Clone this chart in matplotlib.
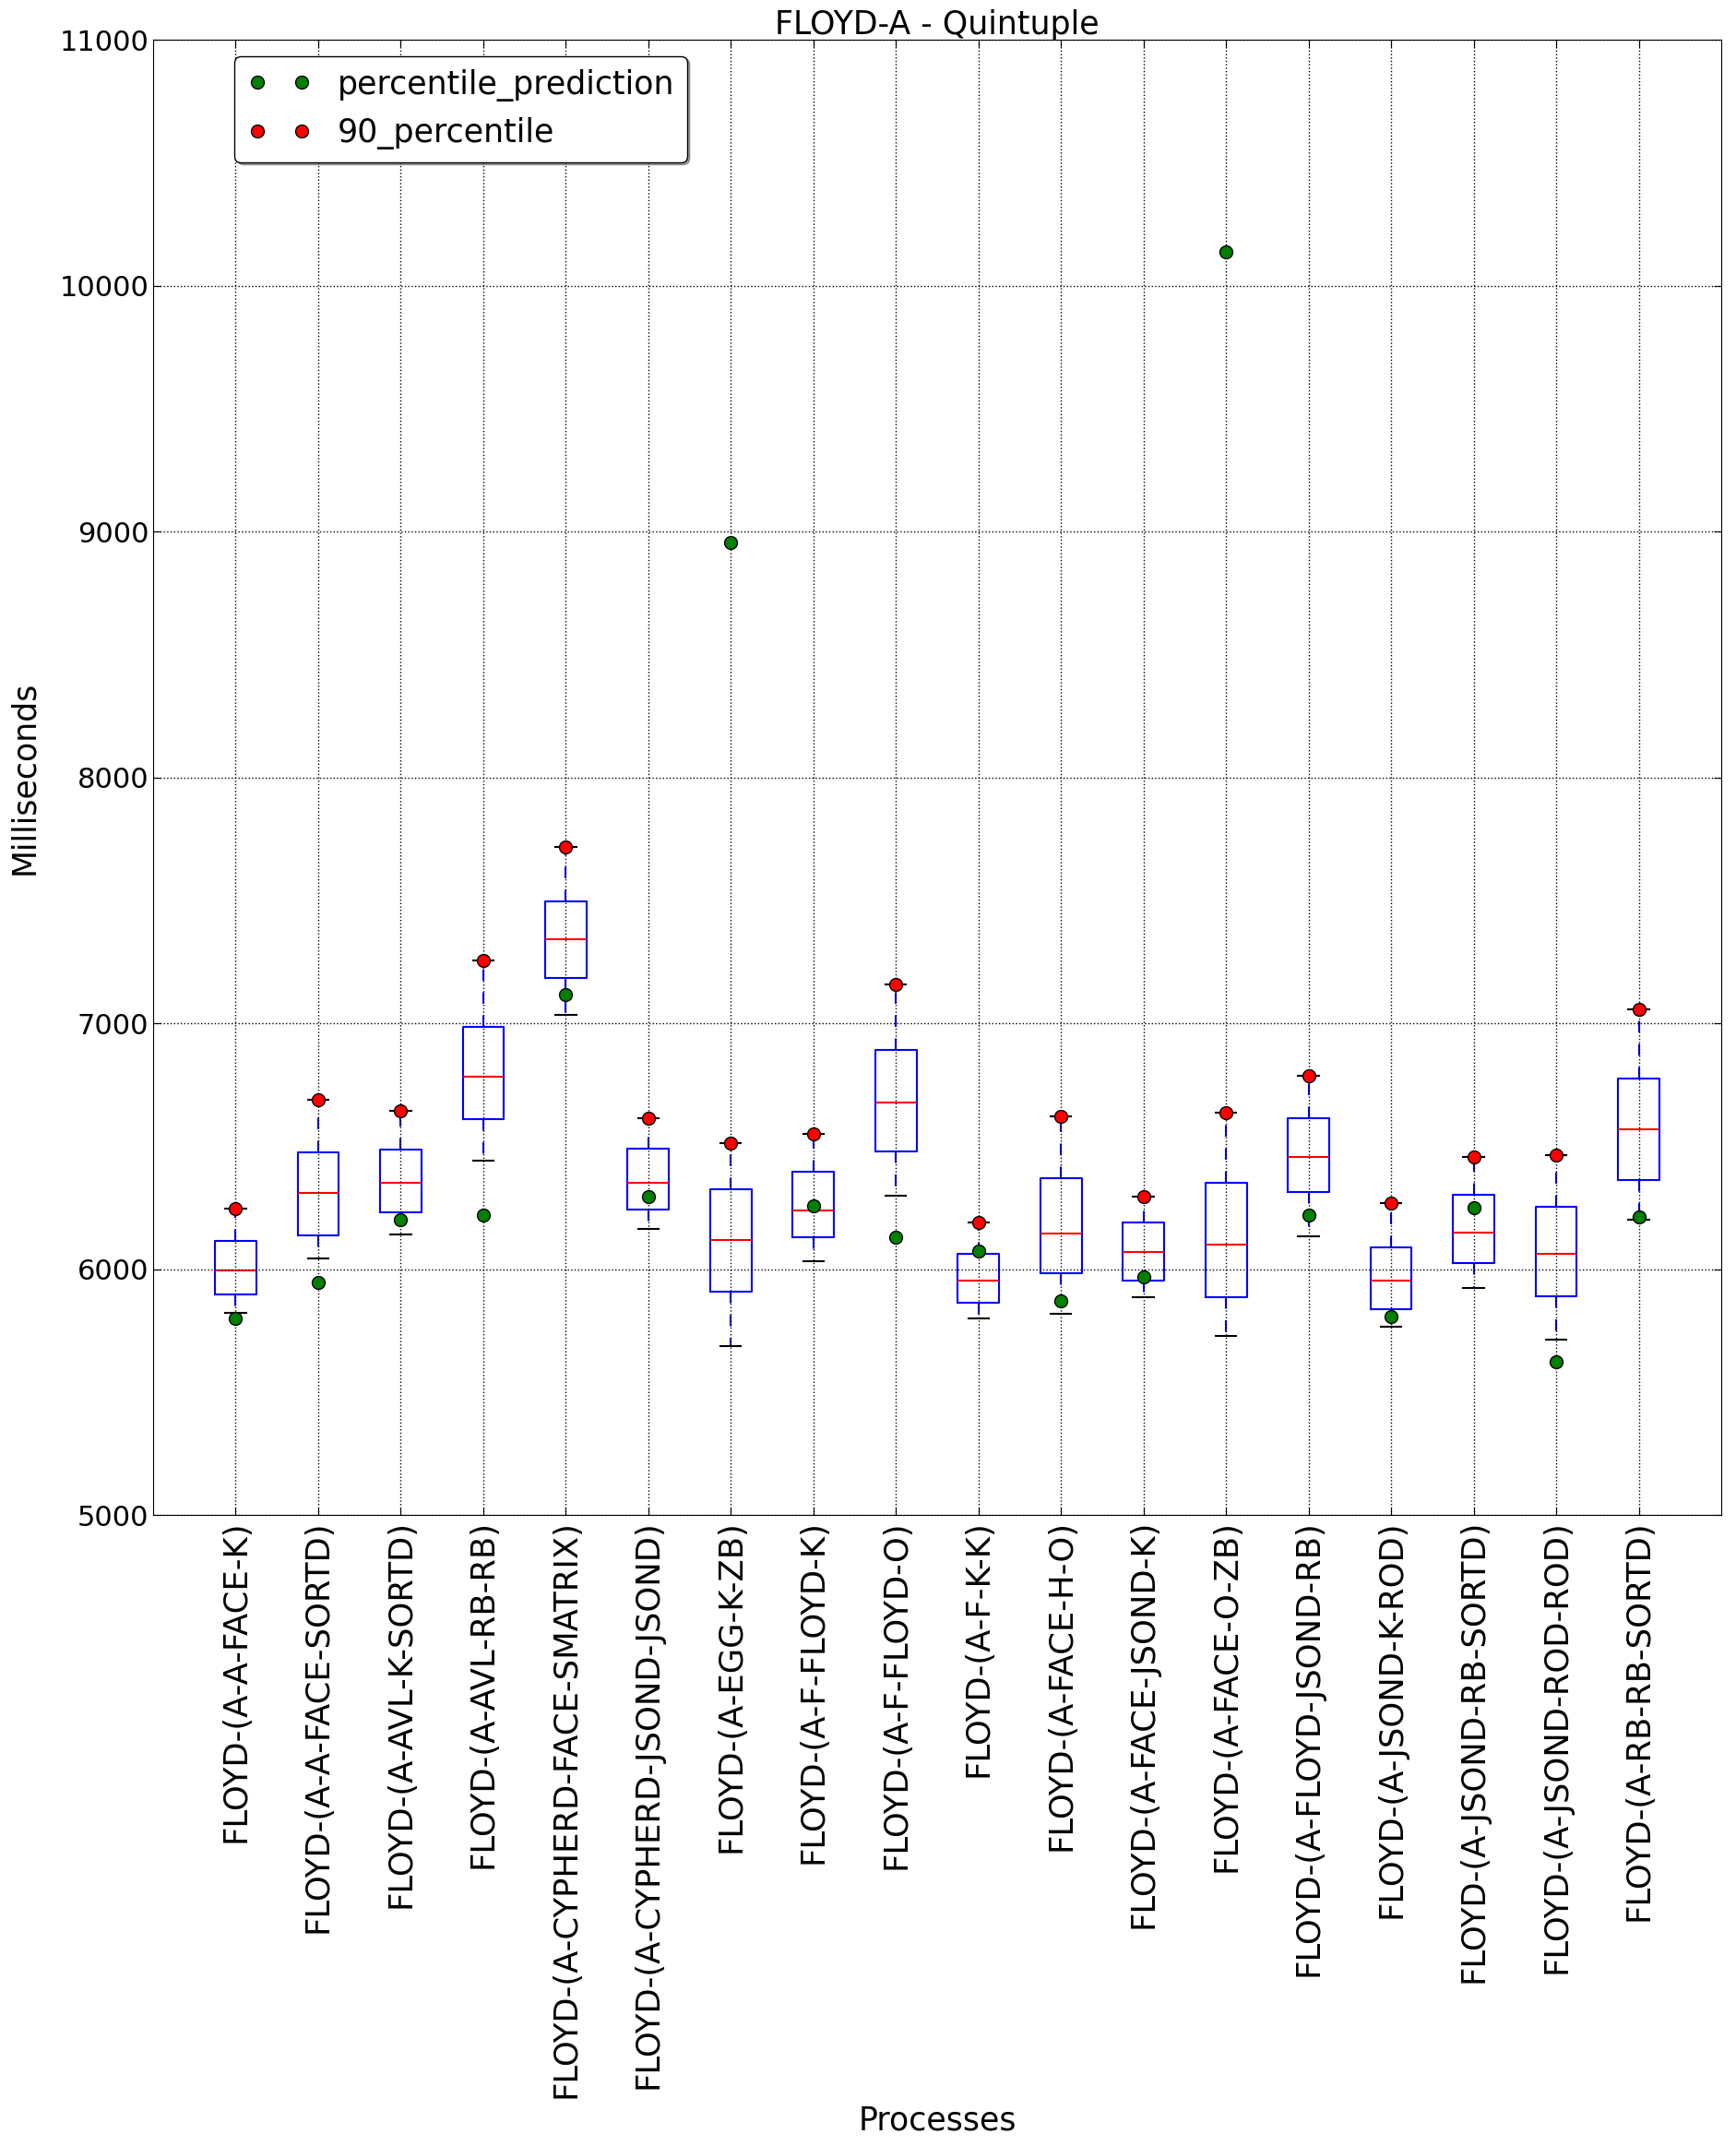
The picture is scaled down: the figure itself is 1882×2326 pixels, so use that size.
import matplotlib
matplotlib.use('Agg')
import matplotlib.pyplot as plt

names = ['FLOYD-(A-A-FACE-K)', 'FLOYD-(A-A-FACE-SORTD)', 'FLOYD-(A-AVL-K-SORTD)',
         'FLOYD-(A-AVL-RB-RB)', 'FLOYD-(A-CYPHERD-FACE-SMATRIX)', 'FLOYD-(A-CYPHERD-JSOND-JSOND)',
         'FLOYD-(A-EGG-K-ZB)', 'FLOYD-(A-F-FLOYD-K)', 'FLOYD-(A-F-FLOYD-O)',
         'FLOYD-(A-F-K-K)', 'FLOYD-(A-FACE-H-O)', 'FLOYD-(A-FACE-JSOND-K)',
         'FLOYD-(A-FACE-O-ZB)', 'FLOYD-(A-FLOYD-JSOND-RB)', 'FLOYD-(A-JSOND-K-ROD)',
         'FLOYD-(A-JSOND-RB-SORTD)', 'FLOYD-(A-JSOND-ROD-ROD)', 'FLOYD-(A-RB-RB-SORTD)']

whislo = [5824, 6045, 6143, 6441, 7034, 6164, 5688, 6034, 6300,
          5800, 5819, 5886, 5729, 6134, 5766, 5925, 5715, 6201]
q1 = [5899, 6139, 6231, 6610, 7186, 6244, 5909, 6130, 6480,
      5865, 5984, 5954, 5887, 6315, 5837, 6026, 5890, 6362]
med = [5996, 6311, 6351, 6783, 7341, 6351, 6119, 6239, 6677,
       5954, 6145, 6071, 6100, 6456, 5954, 6149, 6062, 6569]
q3 = [6115, 6475, 6488, 6985, 7494, 6491, 6325, 6396, 6891,
      6062, 6370, 6190, 6352, 6614, 6089, 6302, 6254, 6775]
whishi = [6248, 6689, 6644, 7256, 7716, 6615, 6512, 6552, 7159,
          6191, 6621, 6295, 6635, 6786, 6270, 6457, 6464, 7056]

percentile_prediction = [5801, 5946, 6201, 6220, 7115, 6295, 8955, 6257, 6130,
                         6075, 5871, 5970, 10139, 6220, 5808, 6251, 5624, 6211]
percentile_90 = [6248, 6689, 6644, 7256, 7716, 6615, 6512, 6552, 7159,
                 6191, 6621, 6295, 6635, 6786, 6270, 6457, 6464, 7056]

stats = []
for i in range(len(names)):
    stats.append({'whislo': whislo[i], 'q1': q1[i], 'med': med[i],
                  'q3': q3[i], 'whishi': whishi[i], 'fliers': []})

fig = plt.figure(figsize=(18.82, 23.26), dpi=100)
ax = fig.add_axes([0.0882, 0.294, 0.9033, 0.6875])

pos = list(range(1, len(names) + 1))
ax.bxp(stats, positions=pos, widths=0.5, showfliers=False,
       boxprops=dict(color='b', linewidth=1.5),
       whiskerprops=dict(color='b', linestyle='--', linewidth=1.5, dashes=(6, 6)),
       capprops=dict(color='k', linewidth=1.5),
       medianprops=dict(color='r', linewidth=1.5))

ax.plot(pos, percentile_prediction, 'o', color='green', markeredgecolor='k',
        markersize=10, label='percentile_prediction', zorder=3)
ax.plot(pos, percentile_90, 'o', color='red', markeredgecolor='k',
        markersize=10, label='90_percentile', zorder=3)

ax.set_xlim(0, 19)
ax.set_ylim(5000, 11000)
ax.set_xticks(pos)
ax.set_xticklabels(names, rotation=90, fontsize=25.5)
ax.set_yticks(range(5000, 11001, 1000))
ax.tick_params(axis='y', labelsize=22)
ax.tick_params(direction='in', top=True, right=True, length=6)
ax.set_axisbelow(False)
ax.grid(True, linestyle=':', color='k', linewidth=1)

ax.set_title('FLOYD-A - Quintuple', fontsize=25, pad=4)
ax.set_xlabel('Processes', fontsize=25)
ax.set_ylabel('Milliseconds', fontsize=25)
ax.xaxis.set_label_coords(0.5, -0.40)
ax.yaxis.set_label_coords(-0.072, 0.5)

leg = ax.legend(loc='upper left', bbox_to_anchor=(0.052, 0.989), borderaxespad=0,
                numpoints=2, fontsize=25, shadow=True, fancybox=True, framealpha=1)
leg.get_frame().set_edgecolor('k')

fig.savefig('out.png', dpi=100, facecolor='white')
